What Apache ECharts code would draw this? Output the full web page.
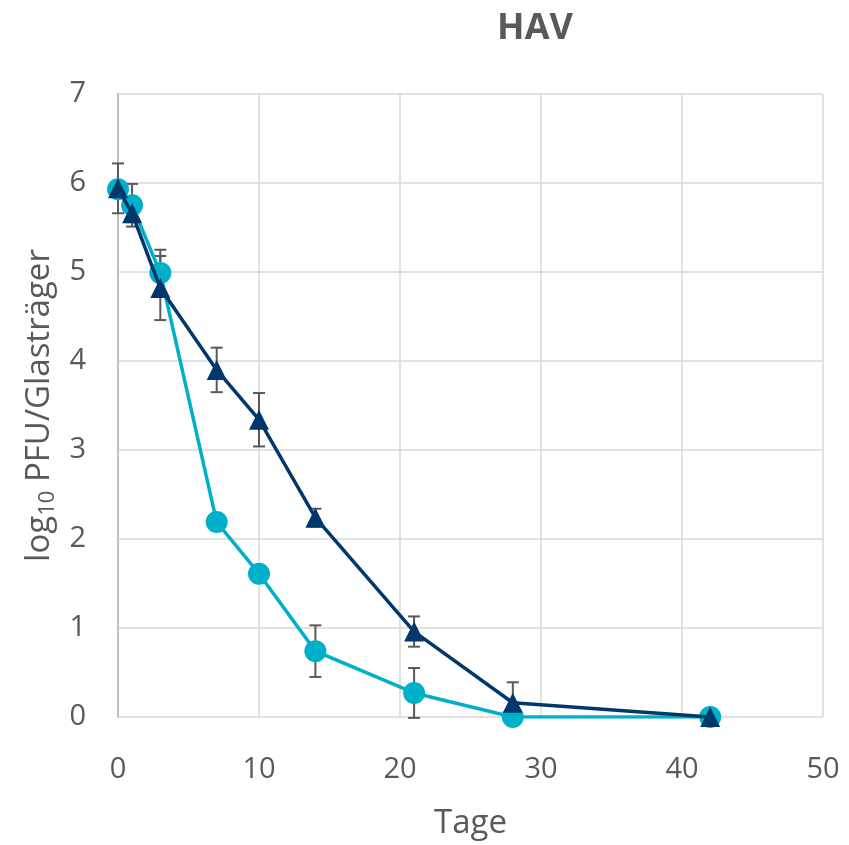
<!DOCTYPE html>
<html>
<head>
<meta charset="utf-8">
<script src="https://cdn.jsdelivr.net/npm/echarts@6/dist/echarts.min.js"></script>
<style>
    html, body { margin: 0; padding: 0; background: #fff; }
    #chart { width: 849px; height: 845px; }
</style>
</head>
<body>
<div id="chart"></div>
<script>
// Tage (days)
const days = [0, 1, 3, 7, 10, 14, 21, 28, 42];
// cyan circles
const seriesA = [5.93, 5.75, 4.99, 2.19, 1.61, 0.74, 0.27, 0, 0];
const errA = [0, 0.24, 0.26, 0, 0.03, 0.29, 0.28, 0, 0];
// navy triangles
const seriesB = [5.94, 5.66, 4.82, 3.90, 3.34, 2.24, 0.96, 0.16, 0];
const errB = [0.28, 0.1, 0.36, 0.25, 0.3, 0.1, 0.17, 0.23, 0];

const cyan = '#00B0C8';
const navy = '#00386C';
const grey = '#595959';

function pairs(vals) {
    return days.map((d, i) => [d, vals[i]]);
}

function errData(vals, errs) {
    return days.map((d, i) => [d, vals[i] - errs[i], vals[i] + errs[i]]).filter((r, i) => errs[i] > 0);
}

function renderErr(params, api) {
    let x = api.value(0);
    let lo = api.coord([x, api.value(1)]);
    let hi = api.coord([x, api.value(2)]);
    let half = 6;
    let style = { stroke: grey, lineWidth: 2, fill: null };
    return {
        type: 'group',
        children: [
            { type: 'line', shape: { x1: lo[0], y1: lo[1], x2: hi[0], y2: hi[1] }, style: style },
            { type: 'line', shape: { x1: lo[0] - half, y1: lo[1], x2: lo[0] + half, y2: lo[1] }, style: style },
            { type: 'line', shape: { x1: hi[0] - half, y1: hi[1], x2: hi[0] + half, y2: hi[1] }, style: style }
        ]
    };
}

const myChart = echarts.init(document.getElementById('chart'));
const font = 'Open Sans, Liberation Sans, sans-serif';

const option = {
    backgroundColor: '#fff',
    animation: false,
    title: {
        text: 'HAV',
        left: 530,
        top: 6,
        textAlign: 'center',
        textStyle: { fontFamily: font, fontSize: 36, fontWeight: 'bold', color: grey }
    },
    grid: { left: 118, right: 26, top: 94, bottom: 128 },
    xAxis: {
        type: 'value',
        min: 0, max: 50, interval: 10,
        name: 'Tage',
        nameLocation: 'middle',
        nameGap: 90,
        nameTextStyle: { fontFamily: font, fontSize: 33, color: grey },
        axisLine: { show: false },
        axisTick: { show: false },
        axisLabel: { fontFamily: font, fontSize: 29, color: grey, margin: 38 },
        splitLine: { show: true, lineStyle: { color: '#d9d9d9', width: 1.5 } }
    },
    yAxis: {
        type: 'value',
        min: 0, max: 7, interval: 1,
        name: '{a|log}{s|10}{a| PFU/Glasträger}',
        nameLocation: 'middle',
        nameGap: 58,
        nameRotate: 90,
        nameTextStyle: {
            rich: {
                a: { fontFamily: font, fontSize: 33, color: grey, lineHeight: 40 },
                s: { fontFamily: font, fontSize: 22, color: grey, lineHeight: 40, padding: [16, 0, 0, 0] }
            }
        },
        axisLine: { show: true, lineStyle: { color: '#bfbfbf', width: 2 } },
        axisTick: { show: false },
        axisLabel: { fontFamily: font, fontSize: 29, color: grey, margin: 32 },
        splitLine: { show: true, lineStyle: { color: '#d9d9d9', width: 1.5 } }
    },
    series: [
        {
            type: 'custom',
            renderItem: renderErr,
            data: errData(seriesA, errA),
            z: 1
        },
        {
            type: 'custom',
            renderItem: renderErr,
            data: errData(seriesB, errB),
            z: 1
        },
        {
            type: 'line',
            data: pairs(seriesA),
            symbol: 'circle',
            symbolSize: 22,
            lineStyle: { color: cyan, width: 3.5 },
            itemStyle: { color: cyan },
            z: 3
        },
        {
            type: 'line',
            data: pairs(seriesB),
            symbol: 'triangle',
            symbolSize: 20,
            lineStyle: { color: navy, width: 3.5 },
            itemStyle: { color: navy },
            z: 4
        }
    ]
};

myChart.setOption(option);
</script>
</body>
</html>
